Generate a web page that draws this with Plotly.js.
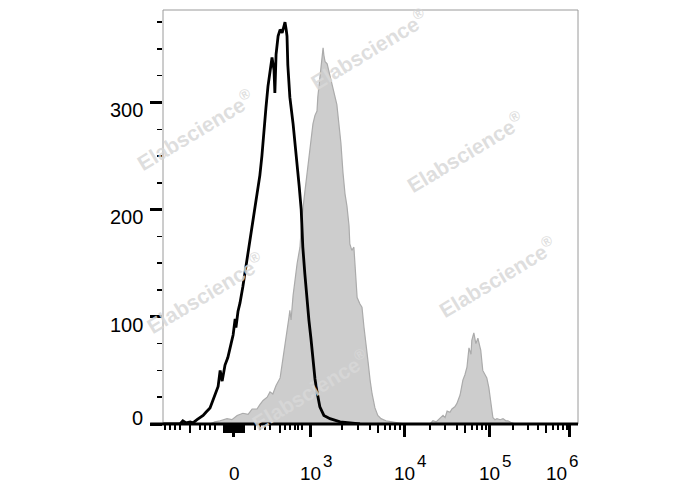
<!DOCTYPE html>
<html>
<head>
<meta charset="utf-8">
<script src="https://cdn.plot.ly/plotly-3.0.1.min.js"></script>
<style>html,body{margin:0;padding:0;background:#fff;}#chart{width:688px;height:490px;}</style>
</head>
<body>
<div id="chart"></div>
<script>
// Display scale: channel units (0..1024) of the biexponential axis
const xMajorVals = [175, 363, 597, 806, 1003];
const xTickBase = ['0', '10', '10', '10', '10'];
const xTickExp = ['', '3', '4', '5', '6'];
const xMediumVals = [67, 289, 531, 745, 945, 151, 156, 160, 165, 170, 180, 185, 190, 195, 200];
const xMinorVals = [5, 17, 30, 42, 91, 104, 116, 128, 227, 239, 252, 264, 301, 313, 326, 333, 343,
  442, 481, 511, 548, 560, 573, 585, 659, 696, 726, 763, 775, 787, 797, 864, 901, 925, 962, 975, 987, 997];
const yMajorVals = [0, 100, 200, 300];
const yTickText = ['0', '100', '200', '300'];
const yMinorVals = [25, 50, 75, 125, 150, 175, 225, 250, 275, 325, 350, 375];

// Control (black line)
const controlX = [0, 42, 49, 57, 67, 74, 84, 91, 99, 106, 116, 123, 131, 136, 141, 146, 153, 160, 168, 173,
  178, 180, 185, 190, 197, 202, 210, 217, 225, 232, 239, 244, 249, 254, 259, 264, 269, 274, 276, 279,
  284, 289, 294, 299, 301, 304, 306, 308, 313, 321, 326, 331, 336, 341, 345, 350, 355, 360, 365, 370,
  375, 380, 387, 397, 412, 437, 461, 486];
const controlY = [0, 0, 3, 1, 2, 1, 4, 6, 8, 11, 15, 22, 30, 35, 50, 40, 55, 62, 75, 83,
  98, 90, 105, 113, 128, 140, 160, 178, 195, 212, 232, 250, 275, 295, 315, 328, 342, 330, 309, 345,
  362, 368, 365, 372, 375, 368, 362, 335, 305, 280, 262, 245, 222, 200, 165, 140, 115, 97, 80, 60,
  42, 30, 16, 8, 5, 2, 1, 0];

// Stained sample (grey filled)
const sampleX = [116, 128, 141, 158, 170, 183, 197, 210, 220, 232, 239, 247, 257, 264, 271, 279, 289, 296, 301, 306,
  311, 313, 316, 321, 326, 331, 338, 343, 348, 355, 360, 365, 370, 375, 380, 382, 387, 390, 395, 397,
  400, 405, 410, 415, 419, 424, 429, 434, 439, 444, 449, 454, 459, 461, 466, 471, 476, 479, 486, 491,
  496, 501, 506, 511, 516, 523, 530, 538, 550, 565, 580, 597, 659, 666, 674, 683, 691, 696, 701, 708,
  713, 720, 725, 733, 740, 745, 750, 755, 760, 762, 767, 772, 777, 782, 784, 789, 794, 799, 804, 809,
  814, 819, 824, 832, 839, 846, 851, 861, 869, 1024];
const sampleY = [0, 2, 3, 5, 4, 8, 10, 9, 14, 14, 18, 22, 25, 30, 28, 36, 43, 60, 75, 88,
  100, 106, 97, 120, 135, 150, 165, 193, 210, 233, 248, 262, 280, 288, 292, 305, 323, 335, 351, 344,
  338, 336, 328, 320, 314, 305, 298, 280, 262, 235, 215, 203, 185, 168, 162, 165, 135, 118, 112, 109,
  90, 71, 58, 41, 28, 15, 8, 5, 3, 2, 1, 0, 0, 3, 2, 5, 8, 6, 12, 11,
  14, 16, 19, 27, 41, 46, 53, 71, 65, 78, 85, 75, 80, 72, 69, 50, 47, 43, 34, 22,
  6, 4, 5, 4, 5, 3, 3, 1, 0, 0];

const watermark = 'Elabscience<sup>®</sup>';
const wmPos = [[0.077, 0.71], [0.497, 0.905], [0.728, 0.657], [0.805, 0.355], [0.101, 0.316], [0.354, 0.082]];

const FONT = 'Liberation Sans, Arial, sans-serif';

const traces = [
  {x: sampleX, y: sampleY, type: 'scatter', mode: 'lines', fill: 'tozeroy',
   fillcolor: '#cdcdcd', line: {color: '#ababab', width: 1.2}, hoverinfo: 'skip'},
  {x: controlX, y: controlY, type: 'scatter', mode: 'lines',
   line: {color: '#000', width: 2.8}, hoverinfo: 'skip'},
  {x: [], y: [], xaxis: 'x2', type: 'scatter', mode: 'lines', hoverinfo: 'skip'}
];

const annotations = wmPos.map(p => ({
  xref: 'paper', yref: 'paper', x: p[0], y: p[1], xanchor: 'center', yanchor: 'middle',
  text: watermark, showarrow: false,
  textangle: -31, font: {family: FONT, size: 21, weight: 'bold', color: 'rgba(216,216,216,0.85)'}
}));

// x tick labels (base + large exponent, as in the reference)
const baseShift = [1, 0, 0, 0, -13];
const expShift = [0, 17, 17, 17, 4];
xMajorVals.forEach((v, i) => {
  annotations.push({xref: 'x', yref: 'paper', x: v, y: -0.1196, xanchor: 'center', yanchor: 'middle',
    xshift: baseShift[i], text: xTickBase[i], showarrow: false, font: {family: FONT, size: 19, color: '#000'}});
  if (xTickExp[i]) {
    annotations.push({xref: 'x', yref: 'paper', x: v, y: -0.0894, xanchor: 'center', yanchor: 'middle',
      xshift: expShift[i], text: xTickExp[i], showarrow: false, font: {family: FONT, size: 17, color: '#000'}});
  }
});
// y tick labels
const yLabShift = [6, -8, -7.5, -7.5];
yMajorVals.forEach((v, i) => {
  annotations.push({xref: 'paper', yref: 'y', x: -0.0434, y: v, xanchor: 'right', yanchor: 'middle',
    yshift: yLabShift[i], text: yTickText[i], showarrow: false, font: {family: FONT, size: 20, color: '#000'}});
});

const layout = {
  width: 688, height: 490,
  margin: {l: 163, r: 110, t: 10, b: 66},
  paper_bgcolor: '#fff', plot_bgcolor: '#fff',
  showlegend: false,
  xaxis: {range: [0, 1024], tickmode: 'array', tickvals: xMajorVals, showticklabels: false,
    ticks: 'outside', ticklen: 12, tickwidth: 3, tickcolor: '#000',
    showgrid: false, zeroline: false, showline: false, fixedrange: true,
    minor: {tickmode: 'array', tickvals: xMinorVals, ticks: 'outside', ticklen: 5, tickwidth: 1.5, tickcolor: '#000', showgrid: false}},
  xaxis2: {range: [0, 1024], overlaying: 'x', anchor: 'y', side: 'bottom', tickmode: 'array', tickvals: xMediumVals,
    ticks: 'outside', ticklen: 8, tickwidth: 2.5, tickcolor: '#000', showticklabels: false,
    showgrid: false, zeroline: false, showline: false},
  yaxis: {range: [0, 386.3], tickmode: 'array', tickvals: yMajorVals, showticklabels: false,
    ticks: 'outside', ticklen: 12, tickwidth: 3, tickcolor: '#000',
    showgrid: false, zeroline: false, showline: false,
    minor: {tickmode: 'array', tickvals: yMinorVals, ticks: 'outside', ticklen: 5, tickwidth: 1.5, tickcolor: '#000', showgrid: false}},
  shapes: [
    {type: 'rect', xref: 'paper', yref: 'paper', x0: 0, x1: 1, y0: 0, y1: 1,
     line: {color: '#9a9a9a', width: 1}, fillcolor: 'rgba(0,0,0,0)', layer: 'above'},
    {type: 'line', xref: 'paper', yref: 'paper', x0: -0.031, x1: 1, y0: 0, y1: 0,
     line: {color: '#000', width: 3}, layer: 'above'}
  ],
  annotations: annotations
};

Plotly.newPlot('chart', traces, layout, {staticPlot: true, displayModeBar: false});
</script>
</body>
</html>
